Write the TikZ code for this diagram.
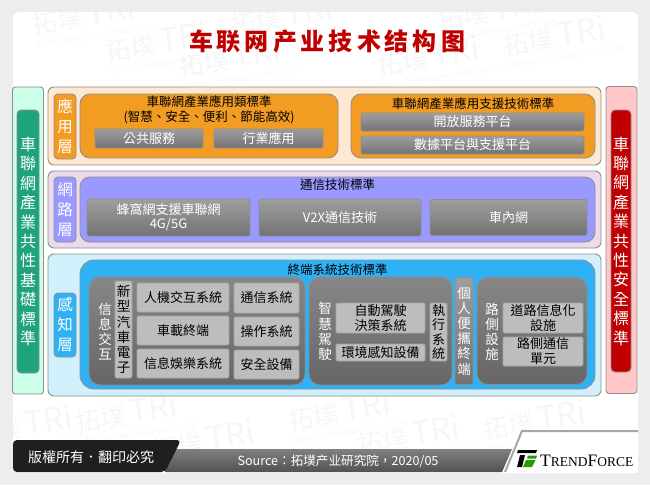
\documentclass[tikz,border=0pt]{standalone}
\usepackage{fontspec}
\setmainfont{Noto Sans CJK TC}
\newfontfamily\logofont{Liberation Serif}
\usetikzlibrary{positioning}
\definecolor{pagegray}{HTML}{EDEDED}
\definecolor{framegray}{HTML}{8F8F8F}
\definecolor{titlered}{HTML}{C00000}
\definecolor{appfill}{HTML}{F29C24}
\definecolor{netfill}{HTML}{9999FF}
\definecolor{sensefill}{HTML}{2FB2F5}
\definecolor{basefill}{HTML}{1FA37F}
\tikzset{size/.style args={#1x#2}{minimum width=#1pt,minimum height=#2pt}}
\tikzset{plate/.style={draw=framegray,line width=.9pt,rounded corners=6pt,inner sep=0pt,outer sep=0pt}}
\tikzset{tag/.style={plate,text=white,align=center,font=\fontsize{15.5}{20}\selectfont,rounded corners=4pt}}
\tikzset{bar/.style={tag,font=\fontsize{16}{19.4}\selectfont}}
\tikzset{head/.style={font=\fontsize{12.5}{15}\selectfont,align=center,inner sep=0pt}}
\tikzset{btn/.style={plate,draw=framegray,rounded corners=2pt,top color=black!38,bottom color=black!55,text=white,align=center,font=\fontsize{13}{14}\selectfont}}
\tikzset{pale/.style={plate,draw=black!35,rounded corners=2pt,fill=black!26,text=black,align=center,font=\fontsize{13}{15}\selectfont}}
\tikzset{well/.style={plate,draw=black!45,rounded corners=11pt,top color=black!47,bottom color=black!60}}
\tikzset{side/.style={text=white,align=center,inner sep=0pt,font=\fontsize{13.5}{15.2}\selectfont}}
\tikzset{wmark/.style={rotate=9,text=black,opacity=.035,inner sep=0pt,align=left,font=\fontsize{25}{12}\selectfont}}
\begin{document}
\begin{tikzpicture}[x=1pt,y=-1pt]
        \useasboundingbox (0,0) rectangle (650,485);
        \fill[pagegray] (0,0) rectangle (650,485);
        \fill[white,rounded corners=6pt] (13,12) rectangle (638,473);
        % watermark
        \begin{scope}
          \clip (13,12) rectangle (638,473);
          \foreach \markx/\marky/\markid in {92/20/a,165/47/b,238/62/c,290/20/d,437/61/e,497/15/f,563/41/g,
            135/418/h,212/445/i,348/416/j,417/440/k,543/425/l,30/430/m}
              \node(mark\markid)[wmark] at (\markx,\marky){拓墣\,{\fontsize{32}{12}\selectfont TRi}\\[2pt]{\fontsize{7.5}{9}\selectfont TOPOLOGY RESEARCH INSTITUTE}};
        \end{scope}
        % pale frames
        \node(leftframe)[plate,size=31x307,fill=green!45!cyan!20!white,rounded corners=3pt] at (28,240.5){};
        \node(rightframe)[plate,size=31x307,fill=red!22!white,rounded corners=3pt] at (621.5,240){};
        \node(appframe)[plate,size=553x78,fill=orange!18!white] at (324.5,126){};
        \node(netframe)[plate,size=553x77,fill=violet!15!white] at (324.5,209.5){};
        \node(senseframe)[plate,size=553x142,fill=cyan!18!white] at (324.5,325){};
        \node(title)[text=titlered,font=\bfseries\fontsize{24}{26}\selectfont,inner sep=0pt] at (327,41){车\hspace{4pt}联\hspace{4pt}网\hspace{4pt}产\hspace{4pt}业\hspace{4pt}技\hspace{4pt}术\hspace{4pt}结\hspace{4pt}构\hspace{4pt}图};
        % side standards
        \node(basebar)[bar,size=22x263,fill=basefill] at (28,241.5){車\\聯\\網\\產\\業\\共\\性\\基\\礎\\標\\準};
        \node(safebar)[bar,size=20x262,fill=titlered] at (621,241){車\\聯\\網\\產\\業\\共\\性\\安\\全\\標\\準};
        % application layer
        \node(apptag)[tag,size=22x65,fill=appfill] at (65,126.5){應\\用\\層};
        \node(appwest)[plate,size=258x64,fill=appfill,rounded corners=10pt] at (209,126){};
        \node(appeast)[plate,size=244x64,fill=appfill,rounded corners=10pt] at (473,126){};
        \node(apphead)[head] at (209,109.5){車聯網產業應用類標準\\(智慧、安全、便利、節能高效)};
        \node(publicbtn)[btn,size=108x19] at (149,138.5){公共服務};
        \node(tradebtn)[btn,size=109x19,right=11pt of publicbtn]{行業應用};
        \node(suphead)[head] at (473,104){車聯網產業應用支援技術標準};
        \node(openbtn)[btn,size=223x18] at (472.5,122){開放服務平台};
        \node(databtn)[btn,size=223x18,below=5pt of openbtn]{數據平台與支援平台};
        % network layer
        \node(nettag)[tag,size=22x65,fill=netfill] at (65,209.5){網\\路\\層};
        \node(netbase)[plate,size=515x65,fill=netfill,rounded corners=10pt] at (337.5,209.5){};
        \node(nethead)[head] at (337.5,185){通信技術標準};
        \node(cellbtn)[btn,size=163x37] at (168.5,217.5){蜂窩網支援車聯網\\4G/5G};
        \node(v2xbtn)[btn,size=162x37,right=9pt of cellbtn]{V2X通信技術};
        \node(carbtn)[btn,size=157x36,right=9pt of v2xbtn]{車內網};
        % sensing layer
        \node(sensetag)[tag,size=22x64,fill=sensefill] at (65,325){感\\知\\層};
        \node(sensebase)[plate,size=515x129,fill=sensefill,rounded corners=14pt] at (337.5,324.5){};
        \node(sensehead)[head] at (337.5,270){終端系統技術標準};
        \node(infowell)[well,size=216x108] at (197,331){};
        \node(drivewell)[well,size=143x108,right=4pt of infowell]{};
        \node(handbtn)[btn,size=18x107,rounded corners=1pt,right=3pt of drivewell,font=\fontsize{13.5}{15.2}\selectfont]{個\\人\\便\\攜\\終\\端};
        \node(roadwell)[well,size=110x107,right=4pt of handbtn]{};
        \node(infotext)[side] at (105,331.5){信\\息\\交\\互};
        \node(autobtn)[pale,size=17x97,font=\fontsize{13.5}{15.2}\selectfont] at (123.5,329.5){新\\型\\汽\\車\\電\\子};
        \node(hmibtn)[pale,size=92x29] at (183,297.5){人機交互系統};
        \node(termbtn)[pale,size=92x29,below=4pt of hmibtn]{車載終端};
        \node(mediabtn)[pale,size=92x29,below=4pt of termbtn]{信息娛樂系統};
        \node(combtn)[pale,size=65x30] at (266.5,298){通信系統};
        \node(opbtn)[pale,size=65x29,below=4pt of combtn]{操作系統};
        \node(secbtn)[pale,size=65x29,below=4pt of opbtn]{安全設備};
        \node(smarttext)[side] at (325,331.5){智\\慧\\駕\\駛};
        \node(decibtn)[pale,size=89x30] at (380.5,318){自動駕駛\\決策系統};
        \node(envbtn)[pale,size=89x17,below=11pt of decibtn]{環境感知設備};
        \node(execbtn)[pale,size=17x58,font=\fontsize{13}{14.6}\selectfont] at (438.5,332){執\\行\\系\\統};
        \node(roadtext)[side] at (492,332){路\\側\\設\\施};
        \node(roadbtn)[pale,size=80x30] at (543,318){道路信息化\\設施};
        \node(linkbtn)[pale,size=80x29,below=4pt of roadbtn]{路側通信\\單元};
        % footer
        \shade[top color=black!50,bottom color=black!68] (165,449) -- (512,449) -- (502,472) -- (165,472) -- cycle;
        \fill[black!88,rounded corners=4pt] (13,440) -- (181,440) -- (165,472) -- (13,472) -- cycle;
        \fill[white] (522,430) -- (638,430) -- (638,473) -- (505,473) -- cycle;
        \draw[gray!70,line width=2pt] (505,472) -- (522,431) -- (638,431);
        \node(rights)[text=white,inner sep=0pt,font=\fontsize{14}{16}\selectfont] at (91,457){版權所有．翻印必究};
        \node(source)[text=white,inner sep=0pt,font=\fontsize{12.6}{14}\selectfont] at (338,461){Source：拓墣产业研究院，2020/05};
        \fill[black] (518,450) -- (537,450) -- (536,453) -- (517,453) -- cycle;
        \fill[black] (520,455) -- (525,455) -- (522,467) -- (517,467) -- cycle;
        \fill[green!55!black!85!yellow] (528,455.5) -- (537,455.5) -- (536,458.5) -- (527,458.5) -- cycle;
        \fill[green!55!black!85!yellow] (526,460) -- (535.5,460) -- (532,467) -- (523,467) -- cycle;
        \node(brand)[anchor=west,inner sep=0pt,font=\logofont\fontsize{17.5}{18}\selectfont] at (540,460.5){T{\fontsize{13.5}{14}\selectfont REND}F{\fontsize{13.5}{14}\selectfont ORCE}};
\end{tikzpicture}
\end{document}
